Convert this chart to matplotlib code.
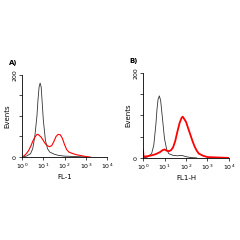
import numpy as np
import matplotlib
matplotlib.use('Agg')
import matplotlib.pyplot as plt

# histogram traces, x in log10 decades, y in events
a_ctrl_x = [0.0, 0.2, 0.4, 0.5, 0.6, 0.7, 0.75, 0.8, 0.85, 0.9, 0.95, 1.0, 1.1, 1.2, 1.3, 1.5, 1.7, 2.0, 2.5, 3.0]
a_ctrl_y = [0, 2, 8, 20, 50, 100, 140, 170, 180, 170, 130, 90, 40, 20, 12, 7, 4, 2, 1, 0]
a_test_x = [0.0, 0.1, 0.2, 0.3, 0.4, 0.5, 0.6, 0.7, 0.75, 0.8, 0.9, 1.0, 1.1, 1.2, 1.3, 1.4, 1.5,
            1.6, 1.7, 1.8, 1.9, 2.0, 2.1, 2.2, 2.4, 2.6, 2.8, 3.0, 3.2]
a_test_y = [0, 3, 8, 15, 25, 38, 48, 55, 55, 53, 48, 40, 32, 27, 25, 28, 38,
            50, 55, 54, 45, 30, 18, 12, 8, 5, 3, 1, 0]

b_ctrl_x = [0.0, 0.2, 0.4, 0.5, 0.6, 0.65, 0.7, 0.76, 0.82, 0.9, 1.0, 1.1, 1.2, 1.4, 1.6, 1.8, 2.0, 2.2, 2.5]
b_ctrl_y = [0, 2, 10, 30, 80, 115, 138, 146, 135, 95, 45, 20, 10, 6, 5, 6, 3, 1, 0]
b_test_x = [0.0, 0.02, 0.05, 0.2, 0.4, 0.6, 0.8, 0.9, 1.0, 1.1, 1.2, 1.3, 1.4, 1.5, 1.6, 1.7,
            1.8, 1.85, 1.9, 2.0, 2.1, 2.2, 2.3, 2.4, 2.5, 2.6, 2.8, 3.0, 3.5, 4.0]
b_test_y = [18, 5, 3, 4, 6, 9, 14, 18, 20, 17, 16, 18, 25, 40, 62, 82,
            95, 97, 93, 85, 70, 55, 40, 27, 17, 10, 5, 2, 1, 0]

xticks = [1, 10, 100, 1000, 10000]
xticklabels = ['$10^0$', '$10^1$', '$10^2$', '$10^3$', '$10^4$']


def draw(ax, cx, cy, tx, ty, xlabel, tag, red_lw):
    ax.plot(10 ** np.array(cx), cy, color='#333333', lw=0.6)
    ax.plot(10 ** np.array(tx), ty, color='#ff0000', lw=red_lw)
    ax.set_xscale('log')
    ax.set_xlim(1, 10000)
    ax.set_ylim(0, 200)
    ax.set_xticks(xticks)
    ax.set_xticklabels(xticklabels, fontsize=4.5)
    ax.xaxis.set_minor_locator(matplotlib.ticker.NullLocator())
    ax.set_yticks([0, 50, 100, 150, 200])
    ax.set_yticklabels(['0', '', '', '', '200'], fontsize=4.5, rotation=90, va='center')
    for s in ['top', 'right']:
        ax.spines[s].set_visible(False)
    for s in ['left', 'bottom']:
        ax.spines[s].set_linewidth(0.6)
    ax.tick_params(length=2, width=0.5, pad=1.5)
    ax.set_xlabel(xlabel, fontsize=5, labelpad=2)
    ax.set_ylabel('Events', fontsize=5, labelpad=1)
    ax.text(-0.16, 1.12, tag, transform=ax.transAxes, fontsize=5, fontweight='bold')


fig = plt.figure(figsize=(2.4, 2.4), dpi=100)
ax1 = fig.add_axes([0.092, 0.346, 0.354, 0.342])
ax2 = fig.add_axes([0.596, 0.342, 0.358, 0.354])
draw(ax1, a_ctrl_x, a_ctrl_y, a_test_x, a_test_y, 'FL-1', 'A)', 0.8)
draw(ax2, b_ctrl_x, b_ctrl_y, b_test_x, b_test_y, 'FL1-H', 'B)', 1.3)
fig.savefig('out.png', dpi=100)
